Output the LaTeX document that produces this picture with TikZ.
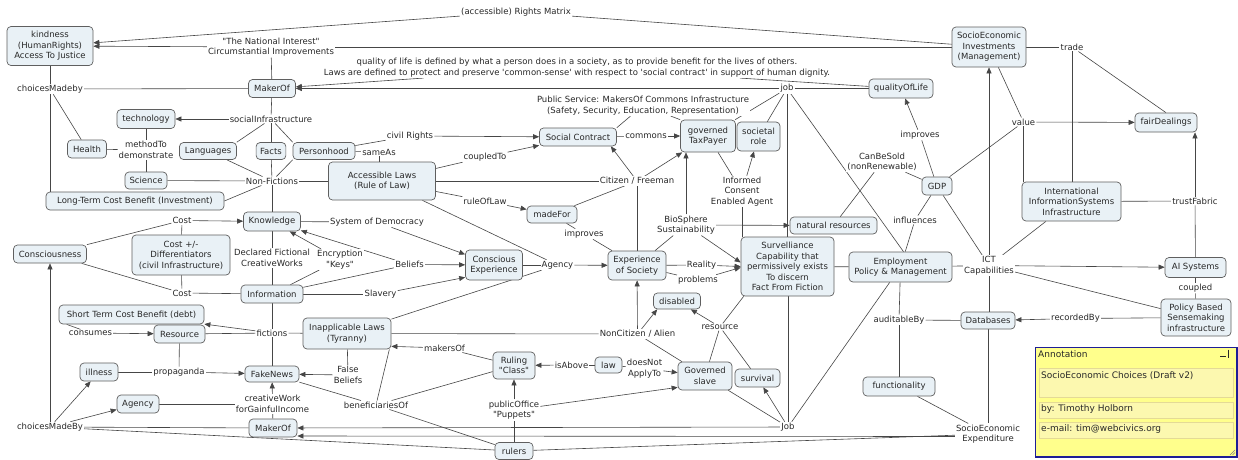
\documentclass[tikz,border=0pt]{standalone}
\usepackage{fontspec}
\newfontfamily\dvs{DejaVu Sans}
\usetikzlibrary{arrows.meta}
\definecolor{cfill}{RGB}{233,241,246}
\definecolor{cline}{RGB}{70,70,70}
\definecolor{cborder}{RGB}{95,95,95}
\definecolor{ctext}{RGB}{40,40,40}
\definecolor{annfill}{RGB}{255,255,140}
\definecolor{annsub}{RGB}{252,248,175}
\definecolor{annborder}{RGB}{30,30,150}
\definecolor{annsubline}{RGB}{228,218,150}
\pgfdeclarelayer{bg}
\pgfsetlayers{bg,main}
\newcommand\labfont{\dvs\fontsize{8.5}{10.5}\selectfont}
\newcommand\annfont{\dvs\fontsize{9}{11}\selectfont}
\tikzset{
 cn/.style={draw=cborder, fill=cfill, rounded corners=4pt, line width=0.7pt, inner xsep=4pt, inner ysep=2pt, align=center, font=\labfont, text=ctext},
 lk/.style={fill=white, inner sep=1pt, align=center, font=\labfont, text=ctext},
 ln/.style={draw=cline, line width=0.6pt},
 arr/.style={ln, -{Triangle[length=6pt,width=5pt]}},
 annsubbox/.style={fill=annsub, draw=annsubline, line width=0.6pt, anchor=north west, minimum width=194pt, inner sep=0pt},
 anntext/.style={anchor=west, font=\annfont, inner sep=0pt, text=ctext}
}
\begin{document}
\begin{tikzpicture}[x=1pt,y=-1pt]
\useasboundingbox (0,0) rectangle (1238,459);
\clip (0,0) rectangle (1238,459);
% ---------- concept nodes ----------
\node[cn, minimum width=86pt, minimum height=39pt] (kind) at (50,46) {kindness\\(HumanRights)\\Access To Justice};
\node[cn, minimum width=47pt, minimum height=18pt] (mk1) at (272,88.5) {MakerOf};
\node[cn, minimum width=58pt, minimum height=19pt] (tech) at (146,119) {technology};
\node[cn, minimum width=39pt, minimum height=18pt] (health) at (87,149) {Health};
\node[cn, minimum width=57pt, minimum height=17pt] (lang) at (208,151) {Languages};
\node[cn, minimum width=28pt, minimum height=17pt] (facts) at (271,151) {Facts};
\node[cn, minimum width=62pt, minimum height=17pt] (person) at (324,151) {Personhood};
\node[cn, minimum width=42pt, minimum height=17pt] (sci) at (146,180.5) {Science};
\node[cn, minimum width=178pt, minimum height=18pt] (ltcb) at (135,201) {Long-Term Cost Benefit (Investment)};
\node[cn, minimum width=57pt, minimum height=19pt] (know) at (272,221.5) {Knowledge};
\node[cn, minimum width=73pt, minimum height=18pt] (consc) at (50,254) {Consciousness};
\node[cn, minimum width=98pt, minimum height=40pt] (costdiff) at (181,255) {Cost +/-\\Differentiators\\(civil Infrastructure)};
\node[cn, minimum width=62pt, minimum height=18pt] (info) at (272,294) {Information};
\node[cn, minimum width=57pt, minimum height=30pt] (cexp) at (494,265) {Conscious\\Experience};
\node[cn, minimum width=107pt, minimum height=38pt] (acc) at (382,181) {Accessible Laws\\(Rule of Law)};
\node[cn, minimum width=77pt, minimum height=18pt] (soc) at (578,137) {Social Contract};
\node[cn, minimum width=50pt, minimum height=17pt] (madefor) at (552,214.5) {madeFor};
\node[cn, minimum width=58pt, minimum height=29pt] (expsoc) at (637,265.5) {Experience\\of Society};
\node[cn, minimum width=47pt, minimum height=16pt] (disabled) at (677,301) {disabled};
\node[cn, minimum width=93pt, minimum height=59pt] (surv) at (787.5,266.5) {Survelliance\\Capability that\\permissively exists\\To discern\\Fact From Fiction};
\node[cn, minimum width=87pt, minimum height=17pt] (natres) at (833.5,225.5) {natural resources};
\node[cn, minimum width=103pt, minimum height=30pt] (employ) at (900.5,267) {Employment\\Policy \& Management};
\node[cn, minimum width=30pt, minimum height=18pt] (gdp) at (937,186) {GDP};
\node[cn, minimum width=64pt, minimum height=19pt] (qol) at (901,88.5) {qualityOfLife};
\node[cn, minimum width=74pt, minimum height=40pt] (sei) at (989,47) {SocioEconomic\\Investments\\(Management)};
\node[cn, minimum width=62pt, minimum height=19pt] (fair) at (1166,122.5) {fairDealings};
\node[cn, minimum width=99pt, minimum height=39pt] (intl) at (1071.5,201.5) {International\\InformationSystems\\Infrastructure};
\node[cn, minimum width=61pt, minimum height=20pt] (ai) at (1195.5,267.5) {AI Systems};
\node[cn, minimum width=70pt, minimum height=37pt] (policy) at (1196,317.5) {Policy Based\\Sensemaking\\infrastructure};
\node[cn, minimum width=54pt, minimum height=17pt] (db) at (988,320.5) {Databases};
\node[cn, minimum width=72pt, minimum height=19pt] (func) at (899,386.5) {functionality};
\node[cn, minimum width=55pt, minimum height=32pt] (taxp) at (708,136) {governed\\TaxPayer};
\node[cn, minimum width=43pt, minimum height=29pt] (role) at (758.5,136.5) {societal\\role};
\node[cn, minimum width=145pt, minimum height=19pt] (stcb) at (131.5,314.5) {Short Term Cost Benefit (debt)};
\node[cn, minimum width=51pt, minimum height=18pt] (res) at (179.5,334) {Resource};
\node[cn, minimum width=88pt, minimum height=31pt] (inapp) at (347,333.5) {Inapplicable Laws\\(Tyranny)};
\node[cn, minimum width=38pt, minimum height=18pt] (ill) at (99,372) {illness};
\node[cn, minimum width=54pt, minimum height=16pt] (fake) at (272,374) {FakeNews};
\node[cn, minimum width=42pt, minimum height=27pt] (ruling) at (514,365.5) {Ruling\\"Class"};
\node[cn, minimum width=27pt, minimum height=16pt] (law) at (608.5,365) {law};
\node[cn, minimum width=54pt, minimum height=28pt] (slave) at (705,376) {Governed\\slave};
\node[cn, minimum width=45pt, minimum height=18pt] (survival) at (757.5,378) {survival};
\node[cn, minimum width=42pt, minimum height=18pt] (agencyb) at (138,404) {Agency};
\node[cn, minimum width=48pt, minimum height=18pt] (mk2) at (273,428) {MakerOf};
\node[cn, minimum width=38pt, minimum height=17pt] (rulers) at (514,451) {rulers};
% ---------- linking phrases ----------
\node[lk] (Lrights) at (516,12) {(accessible) Rights Matrix};
\node[lk] (Lnat) at (271,47) {"The National Interest"\\Circumstantial Improvements};
\node[lk] (Lqual) at (577,67.5) {quality of life is defined by what a person does in a society, as to provide benefit for the lives of others.\\Laws are defined to protect and preserve 'common-sense' with respect to 'social contract' in support of human dignity.};
\node[lk] (Lpub) at (643,105.5) {Public Service: MakersOf Commons Infrastructure\\(Safety, Security, Education, Representation)};
\node[lk] (Ljob) at (787,88.5) {job};
\node[lk] (Lchoice1) at (50,89) {choicesMadeby};
\node[lk] (Lsocinf) at (271,119) {socialInfrastructure};
\node[lk] (Lmethod) at (146,150) {methodTo\\demonstrate};
\node[lk] (Lsame) at (379,152) {sameAs};
\node[lk] (Lcivil) at (410,136) {civil Rights};
\node[lk] (Lnonfic) at (272,181) {Non-Fictions};
\node[lk] (Lcoupled) at (485,157) {coupledTo};
\node[lk] (Lcommons) at (646,136) {commons};
\node[lk] (Lrule) at (485,201) {ruleOfLaw};
\node[lk] (Lcost1) at (182,220.5) {Cost};
\node[lk] (Lsysdem) at (377,222) {System of Democracy};
\node[lk] (Limp1) at (584,234) {improves};
\node[lk] (Lcitizen) at (637,181) {Citizen / Freeman};
\node[lk] (Linformed) at (742,191.5) {Informed\\Consent\\Enabled Agent};
\node[lk] (Lcansold) at (882,162) {CanBeSold\\(nonRenewable)};
\node[lk] (Limp2) at (920,135) {improves};
\node[lk] (Ltrade) at (1072,47) {trade};
\node[lk] (Lvalue) at (1023.5,122) {value};
\node[lk] (Linfl) at (915,220) {influences};
\node[lk] (Lbio) at (686,225) {BioSphere\\Sustainability};
\node[lk] (Ltrust) at (1195,201) {trustFabric};
\node[lk] (Ldecl) at (272,258) {Declared Fictional\\CreativeWorks};
\node[lk] (Lenc) at (340,259.5) {Encryption\\"Keys"};
\node[lk] (Lbeliefs) at (409.5,264.5) {Beliefs};
\node[lk] (Lagency) at (557.5,265) {Agency};
\node[lk] (Lreality) at (701.5,265) {Reality};
\node[lk] (Lproblems) at (698,280) {problems};
\node[lk] (Lict) at (989,265.5) {ICT\\Capabilities};
\node[lk] (Lcoupled2) at (1195.5,288) {coupled};
\node[lk] (Lcost2) at (182,293) {Cost};
\node[lk] (Lslavery) at (380.5,294) {Slavery};
\node[lk] (Lrecorded) at (1075.5,318.5) {recordedBy};
\node[lk] (Laudit) at (899,320) {auditableBy};
\node[lk] (Lresource) at (720,327) {resource};
\node[lk] (Lconsumes) at (90.5,333) {consumes};
\node[lk] (Lfictions) at (272,333) {fictions};
\node[lk] (Lnoncit) at (637.5,334) {NonCitizen / Alien};
\node[lk] (Lmakers) at (444.5,348) {makersOf};
\node[lk] (Lisabove) at (571.5,365) {isAbove};
\node[lk] (Ldoesnot) at (644.5,368.5) {doesNot\\ApplyTo};
\node[lk] (Lpropag) at (179,372) {propaganda};
\node[lk] (Lfalse) at (348,375) {False\\Beliefs};
\node[lk] (Lcreative) at (272.5,404) {creativeWork\\forGainfulIncome};
\node[lk] (Lbenef) at (376,405) {beneficiariesOf};
\node[lk] (Lpublic) at (514,410) {publicOffice\\"Puppets"};
\node[lk] (Lchoice2) at (50,427) {choicesMadeBy};
\node[lk] (Ljob2) at (788,427) {Job};
\node[lk] (Lsocexp) at (988,434) {SocioEconomic\\Expenditure};
% ---------- annotation ----------
\node[draw=annborder, fill=annfill, line width=1.5pt, rectangle, minimum width=201.5pt, minimum height=109.5pt, inner sep=0pt, anchor=north west] (ann) at (1034.75,346.75) {};
\node[anntext] (annt) at (1038,354) {Annotation};
\node[annsubbox, minimum height=29pt] (annb1) at (1038.5,368) {};
\node[anntext] (annt1) at (1041,375.5) {SocioEconomic Choices (Draft v2)};
\node[annsubbox, minimum height=16pt] (annb2) at (1038.5,401.5) {};
\node[anntext] (annt2) at (1041,409.5) {by: Timothy Holborn};
\node[annsubbox, minimum height=16pt] (annb3) at (1038.5,421.5) {};
\node[anntext] (annt3) at (1041,429.5) {e-mail: tim@webcivics.org};
\draw[line width=0.8pt, ctext] (1220,356) -- (1226,356);
\draw[line width=0.8pt, ctext] (1228,349.5) -- (1228,357.5);
\draw[gray, line width=0.5pt] (1230,455) -- (1235,450) (1232.5,455) -- (1235,452.5);
% ---------- connectors ----------
\begin{pgfonlayer}{bg}
\fill[white] (0,0) rectangle (1238,459);
\draw[ln] (sei) -- (Lrights);
\draw[arr] (Lrights) -- (kind);
\draw[ln] (sei) -- (Lnat);
\draw[arr] (Lnat) -- (kind);
\draw[ln] (Lnat) -- (mk1);
\draw[ln] (qol) -- (Lqual);
\draw[arr] (Lqual) -- (mk1);
\draw[arr] (Ljob) -- (mk1);
\draw[ln] (Ljob) -- (qol);
\draw[ln] (Ljob) -- (taxp);
\draw[ln] (Ljob) -- (role);
\draw[ln] (Ljob) -- (Ljob |- surv.north);
\draw[ln] (Ljob) -- ([xshift=3pt]employ.north);
\draw[ln] (kind) -- (Lchoice1);
\draw[ln] (Lchoice1) -- (mk1);
\draw[ln] (Lchoice1) -- (health);
\draw[ln] (Lchoice1) -- (Lchoice1 |- ltcb.north);
\draw[ln] (mk1) -- (Lsocinf);
\draw[arr] (Lsocinf) -- (tech);
\draw[ln] (Lsocinf) -- (lang.north east);
\draw[ln] (Lsocinf) -- (facts);
\draw[ln] (Lsocinf) -- (person.north west);
\draw[ln] (tech) -- (Lmethod);
\draw[ln] (Lmethod) -- (health);
\draw[ln] (Lmethod) -- (sci);
\draw[ln] (sci) -- (Lnonfic);
\draw[ln] (lang) -- (Lnonfic);
\draw[ln] (facts) -- (Lnonfic);
\draw[ln] (person.south west) -- (Lnonfic);
\draw[ln] (ltcb.east) -- (Lnonfic);
\draw[ln] (Lnonfic) -- (acc);
\draw[ln] (Lnonfic) -- (know);
\draw[ln] (person) -- (Lsame);
\draw[ln] (Lsame) -- (Lsame |- acc.north);
\draw[ln] (person) -- (Lcivil);
\draw[arr] (Lcivil) -- (soc);
\draw[ln] (acc) -- (Lcoupled);
\draw[arr] (Lcoupled) -- (soc);
\draw[ln] (acc) -- (Lrule);
\draw[arr] (Lrule) -- (madefor);
\draw[ln] (acc) -- (Lcitizen);
\draw[ln] (acc) -- (Lagency);
\draw[ln] (madefor) -- (Lcitizen);
\draw[arr] (Lcitizen) -- ([xshift=-6pt]soc.south east);
\draw[arr] (Lcitizen) -- (taxp);
\draw[ln] (Lcitizen) -- (expsoc);
\draw[ln] (madefor) -- (Limp1);
\draw[ln] (Limp1) -- (expsoc);
\draw[ln] (soc) -- (Lcommons);
\draw[arr] (Lcommons) -- (taxp);
\draw[ln] (Lpub) -- (soc.north east);
\draw[ln] (Lpub) -- (taxp.north west);
\draw[ln] (taxp) -- (Linformed);
\draw[arr] (Linformed) -- (role);
\draw[ln] (Linformed) -- (Linformed |- surv.north);
\draw[arr] (Lagency) -- (expsoc);
\draw[ln] (cexp) -- (Lagency);
\draw[ln] (inapp) -- (Lagency);
\draw[ln] (expsoc) -- (Lbio);
\draw[arr] (Lbio) -- (natres);
\draw[arr] (Lbio) -- ([yshift=4pt]surv.west);
\draw[arr] (Lbio) -- (Lbio |- taxp.south);
\draw[ln] (expsoc) -- (Lreality);
\draw[arr] (Lreality) -- (surv.west);
\draw[ln] (expsoc) -- (Lproblems);
\draw[arr] (Lproblems) -- ([yshift=-1pt]surv.west);
\draw[arr] (Lnoncit) -- (expsoc);
\draw[ln] (inapp) -- (Lnoncit);
\draw[arr] (Lnoncit) -- ([xshift=4pt]disabled.south west);
\draw[ln] (Lnoncit) -- (slave);
\draw[ln] (surv) -- (employ);
\draw[ln] (natres) -- (Lcansold);
\draw[ln] (Lcansold) -- (gdp);
\draw[ln] (gdp) -- (Limp2);
\draw[arr] (Limp2) -- (qol);
\draw[ln] (gdp) -- (Linfl);
\draw[ln] (Linfl) -- (employ);
\draw[ln] (gdp) -- (Lvalue);
\draw[arr] (Lvalue) -- (fair);
\draw[ln] (sei) -- (Lvalue);
\draw[ln] (Lvalue) -- (Lvalue |- intl.north);
\draw[ln] (sei) -- (Ltrade);
\draw[ln] (Ltrade) -- (fair.north);
\draw[ln] (Ltrade) -- (Ltrade |- intl.north);
\draw[arr] (Lict) -- (Lict |- sei.south);
\draw[ln] (employ) -- (Lict);
\draw[arr] (Lict) -- (ai);
\draw[ln] (Lict) -- (policy);
\draw[ln] (gdp) -- (Lict);
\draw[ln] (intl) -- (Lict);
\draw[ln] (Lict) -- (Lict |- db.north);
\draw[ln] (intl) -- (Ltrust);
\draw[arr] (Ltrust) -- (Ltrust |- fair.south);
\draw[ln] (ai) -- (Ltrust);
\draw[ln] (ai) -- (Lcoupled2);
\draw[ln] (Lcoupled2) -- (policy);
\draw[ln] (policy) -- (Lrecorded);
\draw[arr] (Lrecorded) -- (db);
\draw[ln] (employ) -- (Laudit);
\draw[ln] (Laudit) -- (db);
\draw[ln] (Laudit) -- (func);
\draw[ln] (func) -- (Lsocexp);
\draw[ln] (db) -- (Lsocexp);
\draw[arr] ([yshift=-2.5pt]Lsocexp.west) -- ([yshift=-8pt]mk2.east);
\draw[arr] (Ljob2) -- (mk2);
\draw[ln] (Lchoice2) -- (mk2);
\draw[arr] (Lchoice2) -- (Lchoice2 |- consc.south);
\draw[arr] (Lchoice2) -- (ill);
\draw[arr] (Lchoice2) -- (agencyb);
\draw[ln] (Lchoice2) -- (rulers);
\draw[ln] (rulers) -- (Lsocexp);
\draw[ln] (agencyb) -- (Lcreative);
\draw[arr] (Lcreative) -- (fake);
\draw[ln] (mk2) -- (Lcreative);
\draw[ln] (know) -- (Lsysdem);
\draw[arr] (Lsysdem) -- (cexp);
\draw[arr] (Lbeliefs) -- (know);
\draw[arr] (Lbeliefs) -- (cexp);
\draw[ln] (info) -- (Lbeliefs);
\draw[ln] (info) -- (Lenc);
\draw[arr] (Lenc) -- (know);
\draw[ln] (info) -- (Lslavery);
\draw[arr] (Lslavery) -- ([yshift=3pt]cexp.south west);
\draw[ln] (consc) -- (Lcost1);
\draw[arr] (Lcost1) -- (know);
\draw[ln] (Lcost1) -- (costdiff);
\draw[ln] (consc) -- (Lcost2);
\draw[ln] (Lcost2) -- (info);
\draw[ln] (Lcost2) -- (costdiff);
\draw[ln] (know) -- (Ldecl);
\draw[ln] (Ldecl) -- (info);
\draw[ln] (info) -- (Lfictions);
\draw[arr] (Lfictions) -- (stcb);
\draw[ln] (Lfictions) -- (res);
\draw[ln] (Lfictions) -- (inapp);
\draw[ln] (Lfictions) -- (fake);
\draw[ln] ([xshift=8pt]stcb.south west) -- (Lconsumes);
\draw[arr] (Lconsumes) -- (res);
\draw[ln] (res) -- (Lpropag);
\draw[ln] (ill) -- (Lpropag);
\draw[arr] (Lpropag) -- (fake);
\draw[ln] (inapp) -- (Lfalse);
\draw[arr] (Lfalse) -- (fake);
\draw[ln] (fake) -- (Lbenef);
\draw[ln] (Lbenef) -- ([xshift=-2pt]inapp.south east);
\draw[ln] (Lbenef) -- (ruling);
\draw[ln] (Lbenef) -- (rulers);
\draw[ln] (ruling) -- (Lmakers);
\draw[arr] (Lmakers) -- ([yshift=3pt]inapp.south east);
\draw[ln] (law) -- (Lisabove);
\draw[arr] (Lisabove) -- (ruling);
\draw[ln] (law) -- (Ldoesnot);
\draw[arr] (Ldoesnot) -- (slave);
\draw[ln] (rulers) -- (Lpublic);
\draw[arr] (Lpublic) -- (ruling);
\draw[arr] (Lpublic) -- ([yshift=3pt]slave.south west);
\draw[ln] (slave) -- (Lresource);
\draw[ln] (survival) -- (Lresource);
\draw[ln] ([xshift=3pt]surv.south west) -- (Lresource);
\draw[arr] (Lresource) -- (disabled);
\draw[ln] (Ljob2) -- (slave);
\draw[arr] (Ljob2) -- (survival);
\draw[ln] (Ljob2) -- (Ljob2 |- surv.south);
\draw[ln] (Ljob2) -- (employ);
\end{pgfonlayer}
\end{tikzpicture}
\end{document}
